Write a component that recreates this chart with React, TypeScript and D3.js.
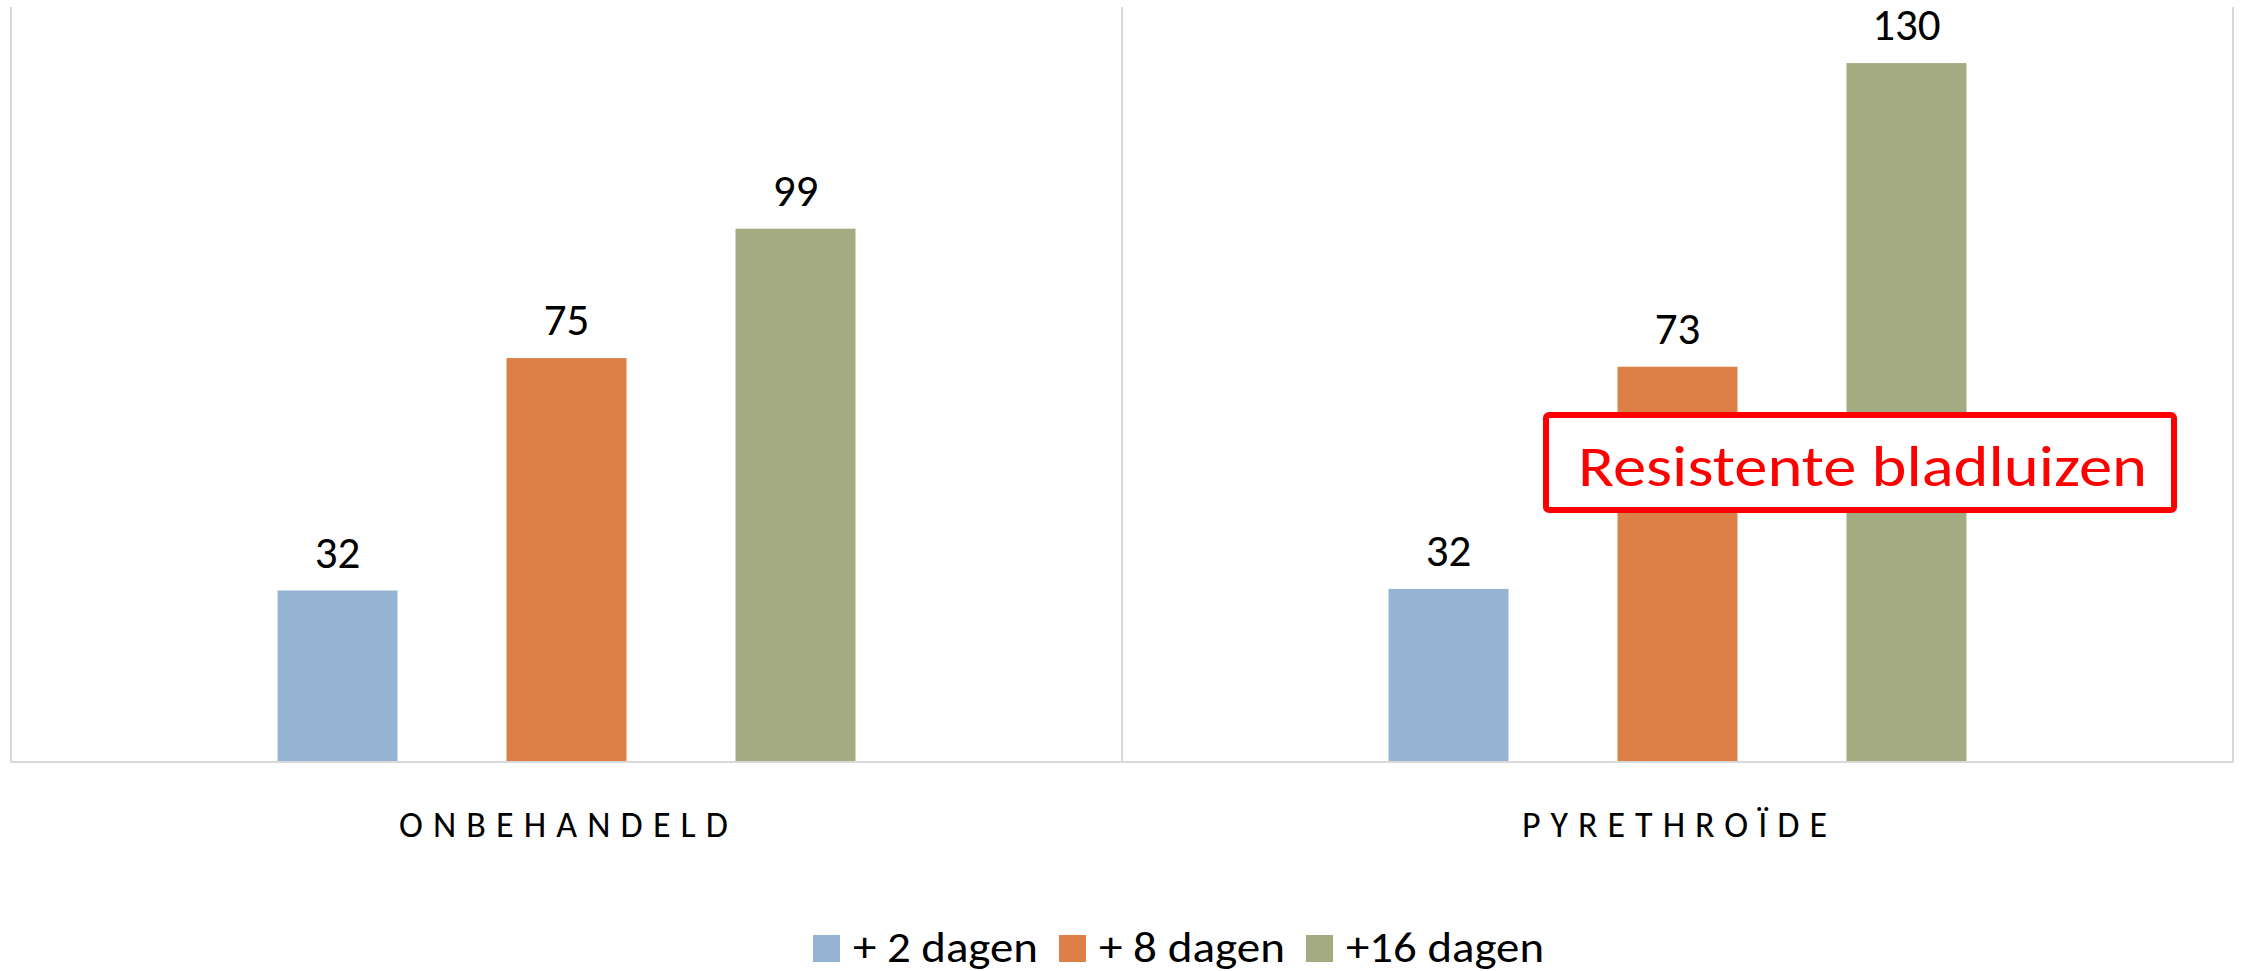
import React, { useEffect, useRef } from "react";
import * as d3 from "d3";

const categories = ["ONBEHANDELD", "PYRETHROÏDE"];
const seriesNames = ["+ 2 dagen", "+ 8 dagen", "+16 dagen"];
const seriesColors = ["#95B4D3", "#DD8047", "#A5AB81"];
const valuesOnbehandeld = [31.8, 74.9, 98.9];
const valuesPyrethroide = [32.1, 73.3, 129.6];
const yDomain = [0, 140];
const annotationText = "Resistente bladluizen";

const categoryLabelWidths = [329, 305];
const legendTextWidths = [185, 186, 198];

const W = 2244;
const H = 971;
const FONT = "Carlito, Calibri, Lato, 'Open Sans', sans-serif";

export default function App() {
  const ref = useRef<SVGSVGElement | null>(null);

  useEffect(() => {
    const svg = d3.select(ref.current);
    svg.selectAll("*").remove();

    const left = 11, right = 2233, top = 7, bottom = 762;
    const data = [valuesOnbehandeld, valuesPyrethroide];

    const x0 = d3.scaleBand<string>().domain(categories).range([left, right]).padding(0);
    const x1 = d3
      .scaleBand<string>()
      .domain(seriesNames)
      .range([0, x0.bandwidth()])
      .paddingInner(0.476)
      .paddingOuter(1.164);
    const y = d3.scaleLinear().domain(yDomain).range([bottom, top]);

    const grid = "#D9D9D9";
    const bounds = [left, ...categories.map((c) => (x0(c) as number) + x0.bandwidth())];
    svg
      .append("g")
      .selectAll("line")
      .data(bounds)
      .join("line")
      .attr("x1", (d) => d)
      .attr("x2", (d) => d)
      .attr("y1", top)
      .attr("y2", bottom)
      .attr("stroke", grid)
      .attr("stroke-width", 2);
    svg
      .append("line")
      .attr("x1", left - 1)
      .attr("x2", right + 1)
      .attr("y1", bottom)
      .attr("y2", bottom)
      .attr("stroke", grid)
      .attr("stroke-width", 2);

    const groups = svg
      .append("g")
      .selectAll("g")
      .data(categories)
      .join("g")
      .attr("transform", (c) => `translate(${x0(c)},0)`);

    groups.each(function (c, ci) {
      const g = d3.select(this);
      const vals = data[ci];
      g.selectAll("rect")
        .data(vals)
        .join("rect")
        .attr("x", (_, i) => x1(seriesNames[i]) as number)
        .attr("width", x1.bandwidth())
        .attr("y", (v) => y(v))
        .attr("height", (v) => bottom - 1 - y(v))
        .attr("fill", (_, i) => seriesColors[i]);
      g.selectAll("text")
        .data(vals)
        .join("text")
        .attr("x", (_, i) => (x1(seriesNames[i]) as number) + x1.bandwidth() / 2)
        .attr("y", (v) => y(v) - 23)
        .attr("text-anchor", "middle")
        .attr("font-family", FONT)
        .attr("font-size", 45)
        .attr("fill", "#000")
        .text((v) => d3.format(".0f")(v));
    });

    // category labels
    svg
      .append("g")
      .selectAll("text")
      .data(categories)
      .join("text")
      .attr("x", (c, i) => (x0(c) as number) + x0.bandwidth() / 2 - 3 - categoryLabelWidths[i] / 2)
      .attr("y", 836.5)
      .attr("font-family", FONT)
      .attr("font-size", 36)
      .attr("textLength", (_, i) => categoryLabelWidths[i])
      .attr("lengthAdjust", "spacing")
      .attr("fill", "#000")
      .text((c) => c);

    // annotation box
    const ann = svg.append("g");
    ann
      .append("rect")
      .attr("x", 1546)
      .attr("y", 415)
      .attr("width", 628)
      .attr("height", 95)
      .attr("rx", 3)
      .attr("fill", "#fff")
      .attr("stroke", "#FF0000")
      .attr("stroke-width", 6);
    ann
      .append("text")
      .attr("x", 1578)
      .attr("y", 486)
      .attr("font-family", FONT)
      .attr("font-size", 58)
      .attr("textLength", 569)
      .attr("lengthAdjust", "spacingAndGlyphs")
      .attr("fill", "#FF0000")
      .text(annotationText);

    // legend
    const legend = svg.append("g");
    let cx = 813;
    seriesNames.forEach((name, i) => {
      legend
        .append("rect")
        .attr("x", cx)
        .attr("y", 935)
        .attr("width", 27)
        .attr("height", 27)
        .attr("fill", seriesColors[i]);
      legend
        .append("text")
        .attr("x", cx + 40)
        .attr("y", 962)
        .attr("font-family", FONT)
        .attr("font-size", 43)
        .attr("textLength", legendTextWidths[i])
        .attr("lengthAdjust", "spacingAndGlyphs")
        .attr("fill", "#000")
        .text(name);
      cx = cx + 40 + legendTextWidths[i] + 21;
    });
  }, []);

  return (
    <svg
      ref={ref}
      width={W}
      height={H}
      style={{ position: "absolute", left: 0, top: 0, background: "#fff" }}
    />
  );
}
